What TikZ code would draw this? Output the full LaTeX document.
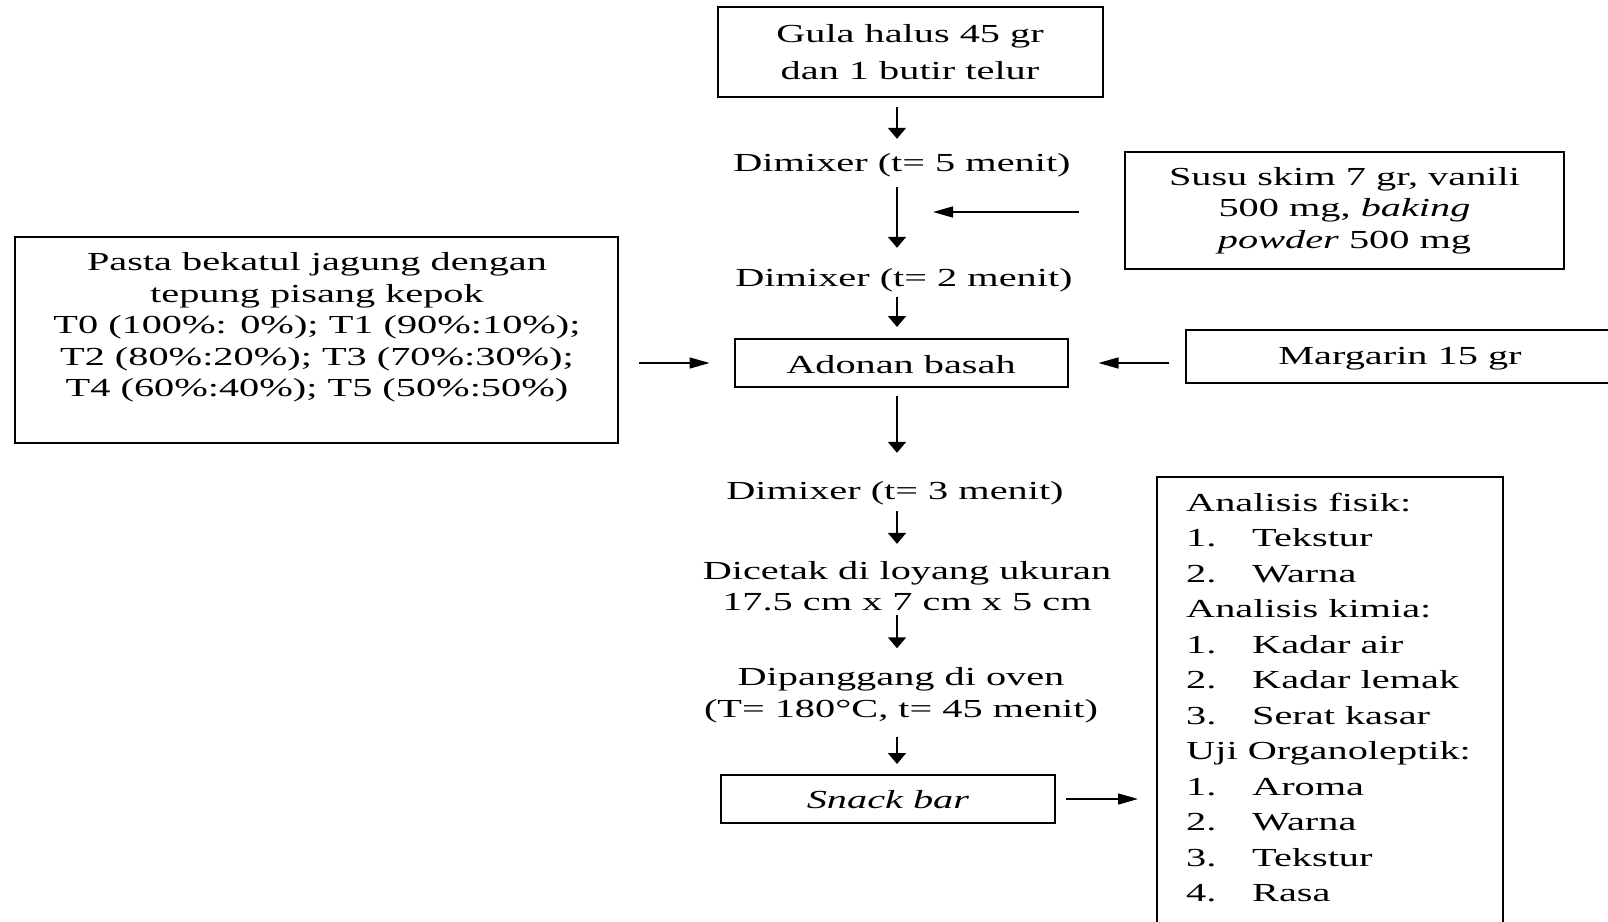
\documentclass[tikz,border=0pt]{standalone}
\usepackage{fontspec}
\setmainfont{Liberation Serif}[FakeStretch=1.55]
\usetikzlibrary{arrows.meta}
\newcommand{\anitem}[1]{\makebox[66pt][l]{#1}}
\begin{document}
\begin{tikzpicture}[x=1pt,y=-1pt,
  every node/.style={inner sep=0pt, font=\fontsize{26}{31.5}\selectfont},
  box/.style={draw, line width=2pt},
  lbl/.style={text height=18pt, text depth=6pt},
  varr/.style={line width=2pt, -{Triangle[width=18pt,length=11pt]}},
  harr/.style={line width=1.5pt, -{Triangle[width=11pt,length=20pt]}}]
\useasboundingbox (0,0) rectangle (1608,921);
\clip (0,0) rectangle (1608,921);
\fill[white] (0,0) rectangle (1608,921);

\node[box, minimum width=385pt, minimum height=90pt, align=center, font=\fontsize{26}{37}\selectfont] (gula) at (910,52) {Gula halus 45 gr\\dan 1 butir telur};
\node[lbl] (mix5) at (902,165) {Dimixer (t= 5 menit)};
\node[lbl] (mix2) at (904,280) {Dimixer (t= 2 menit)};
\node[box, text height=22pt, text depth=2pt, minimum width=333pt, minimum height=48pt] (adonan) at (901,363) {Adonan basah};
\node[lbl] (mix3) at (895,493) {Dimixer (t= 3 menit)};
\node[align=center] (cetak) at (907,586) {Dicetak di loyang ukuran\\17.5 cm x 7 cm x 5 cm};
\node[align=center] (panggang) at (901,695) {Dipanggang di oven\\(T= 180°C, t= 45 menit)};
\node[box, text height=21pt, text depth=3pt, minimum width=334pt, minimum height=48pt] (snack) at (888,799) {\textit{Snack bar}};
\node[box, align=center, minimum width=439pt, minimum height=117pt] (susu) at (1344.5,210.5) {Susu skim 7 gr, vanili\\500 mg, \textit{baking}\\\textit{powder} 500 mg};
\node[box, minimum width=603pt, minimum height=206pt] (pasta) at (316.5,340) {};
\node[align=center] (pastatext) at (317,327.5) {Pasta bekatul jagung dengan\\tepung pisang kepok\\T0 (100\%: 0\%); T1 (90\%:10\%);\\T2 (80\%:20\%); T3 (70\%:30\%);\\T4 (60\%:40\%); T5 (50\%:50\%)};
\node[box, text height=20pt, text depth=4pt, minimum width=428pt, minimum height=53pt] (margarin) at (1400,356.5) {Margarin 15 gr};
\node[box, anchor=north west, minimum width=346pt, minimum height=470pt] (analisis) at (1156,476) {};
\node[anchor=north west, align=left, font=\fontsize{26}{35.45}\selectfont] (antext) at (1186,493) {Analisis fisik:\\
\anitem{1.}Tekstur\\
\anitem{2.}Warna\\
Analisis kimia:\\
\anitem{1.}Kadar air\\
\anitem{2.}Kadar lemak\\
\anitem{3.}Serat kasar\\
Uji Organoleptik:\\
\anitem{1.}Aroma\\
\anitem{2.}Warna\\
\anitem{3.}Tekstur\\
\anitem{4.}Rasa};

\coordinate (col) at (897,0);
\coordinate (join) at (897,212);

\draw[varr, shorten <=9pt, shorten >=14pt] (gula.south -| col) -- (mix5.north -| col);
\draw[varr, shorten <=10pt, shorten >=20pt] (mix5.south -| col) -- (mix2.north -| col);
\draw[varr, shorten <=5pt, shorten >=11pt] (mix2.south -| col) -- (adonan.north -| col);
\draw[varr, shorten <=8pt, shorten >=28pt] (adonan.south -| col) -- (mix3.north -| col);
\draw[varr, shorten <=6pt, shorten >=17pt] (mix3.south -| col) -- (cetak.north -| col);
\draw[varr, shorten <=4pt, shorten >=19pt] (cetak.south -| col) -- (panggang.north -| col);
\draw[varr, shorten <=14pt, shorten >=10pt] (panggang.south -| col) -- (snack.north -| col);

\draw[harr, shorten <=45pt, shorten >=36pt] (susu.west |- join) -- (join);
\draw[harr, shorten <=20pt, shorten >=24pt] (pasta.east |- adonan) -- (adonan.west);
\draw[harr, shorten <=16pt, shorten >=30pt] (margarin.west |- adonan) -- (adonan.east);
\draw[harr, shorten <=10pt, shorten >=18pt] (snack.east) -- (snack.east -| analisis.west);
\end{tikzpicture}
\end{document}
